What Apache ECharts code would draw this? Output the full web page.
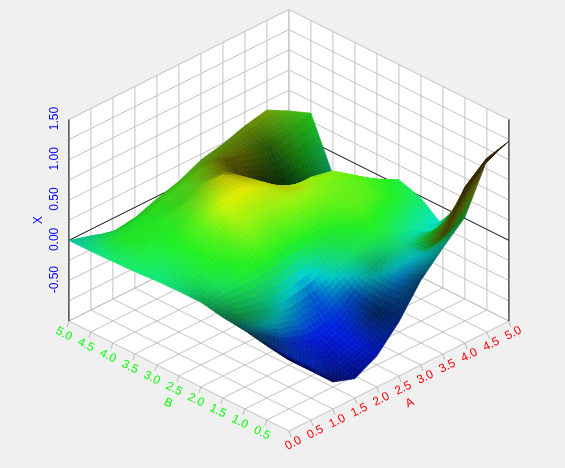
<!DOCTYPE html>
<html><head><meta charset="utf-8">
<style>html,body{margin:0;padding:0;background:#f0f0f0}#c{width:565px;height:468px}</style>
<script src="https://cdn.jsdelivr.net/npm/echarts@6/dist/echarts.min.js"></script></head>
<body><div id="c"></div><script>
const aTicks=[0,0.5,1,1.5,2,2.5,3,3.5,4,4.5,5];
const bTicks=[0,0.5,1,1.5,2,2.5,3,3.5,4,4.5,5];
const xLabels=[-0.5,0,0.5,1,1.5];
const xGrid=[-1,-0.75,-0.5,-0.25,0,0.25,0.5,0.75,1,1.25,1.5];
// surface height X: one row per B tick, one column per A tick
const h0=[-.12,-.39,-.665,-.76,-.615,-.33,.05,.315,.56,1.13,1.23];
const h1=[-.08,-.35,-.6,-.7,-.6,-.35,-.05,.1,.166,.66,.886];
const h2=[-.03,-.25,-.45,-.55,-.5,-.3,-.05,.05,.1,-.05,.29];
const h3=[0,-.15,-.25,-.3,-.25,-.12,0,.1,0,-.1,-.23];
const h4=[.05,.1,.1,.15,.2,.2,.25,.3,.3,.1,-.02];
const h5=[.05,.2,.35,.45,.45,.45,.5,.45,.35,.18,.07];
const h6=[.04,.25,.45,.6,.65,.55,.33,.36,.25,.12,-.07];
const h7=[.02,.2,.4,.6,.675,.51,.3,.09,.1,.04,-.16];
const h8=[.01,.15,.25,.3,.42,.45,.18,-.02,-.23,-.22,-.28];
const h9=[0,-.02,.1,.15,.25,.35,.32,.25,.2,.25,.35];
const h10=[0,-.08,-.17,-.13,-.03,.05,.18,.24,.33,.39,.24];
const heights=[h0,h1,h2,h3,h4,h5,h6,h7,h8,h9,h10];
// colour-map position read at each mesh node (0 blue,1 cyan,2 green,3 yellow,4 orange)
const tones=[
[0,0,0,0,0,.2,.6,1.2,1.5,3.8,4],
[.2,.1,.1,0,0,.3,.6,1,3,3.5,3.5],
[1,.4,.1,0,.05,.3,1.4,1.5,1.2,1,2],
[1.5,1.6,1.3,.8,.4,1.2,1.7,1.9,1.6,1.3,1],
[1.6,1.7,1.9,2,2,2,2.1,2.3,2.2,1.9,1.6],
[1.55,1.9,2.2,2.6,2.5,2.6,2.6,2.4,2.3,2.1,1.9],
[1.5,1.9,2.3,2.9,3.05,2.9,2.9,2.6,2.5,2.3,2.1],
[1.6,1.9,2.1,2.5,3.1,3.1,3,2.8,2.6,2.5,2.3],
[1.6,2,2,2.1,2.4,3,3.3,2.5,1.9,1.9,1.3],
[1.4,1.9,2,2.1,2.2,2.5,3.1,3,2.4,2.2,2.1],
[1.2,1.4,1.9,2,2.1,2.2,2.4,2.6,2.8,2.7,2.3]];
// brightness read at each mesh node
const lights=[
[.35,.4,.35,.55,.75,.5,.4,.6,.6,.25,.15],
[.3,.7,.75,.7,.95,.35,.8,.8,.25,.2,.2],
[.3,.45,.75,.95,1,.75,.7,.9,.95,1,.3],
[.45,.55,.65,.8,.9,.9,.95,1,1,1,1],
[.7,.95,1,1,1,1,1,1,1,1,1],
[.9,1,1,1,1,1,1,1,1,1,1],
[1,1,1,1,.95,.9,.85,1,1,1,1],
[1,1,.95,.85,.75,.7,.8,.85,.95,1,1],
[1,.95,.95,.85,.8,.45,.25,.12,.15,.4,.6],
[.95,.95,.9,.9,.85,.7,.35,.35,.35,.6,.8],
[.85,.85,.8,.8,.8,.75,.65,.55,.55,.65,.75]];
const pointsA=[],pointsB=[],pointsX=[];
const toneStops=[[0,24,224],[0,224,224],[32,240,32],[232,244,0],[224,128,0]];
function view(A,B,X){return [A-B,(A+B)/2+(X+1)*80.6/44];}
function toneColor(t,l){
  const i=Math.min(3,Math.floor(t)),f=t-i;
  const c=toneStops[i].map((v,k)=>Math.round((v+(toneStops[i+1][k]-v)*f)*l));
  return 'rgb('+c.join(',')+')';
}
function bilerp(g,i,j,u,v){
  return (g[j][i]*(1-u)+g[j][i+1]*u)*(1-v)+(g[j+1][i]*(1-u)+g[j+1][i+1]*u)*v;
}
const lastA=aTicks.length-1,lastB=bTicks.length-1,A5=aTicks[lastA],B5=bTicks[lastB],Xmin=xGrid[0],Xmax=xGrid[xGrid.length-1];
const lines=[];
function L(p,q,c,w){lines.push({p:p,q:q,c:c,w:w});}
const grey='#c2c2c2';
aTicks.forEach(a=>{L([a,B5,Xmin],[a,B5,Xmax],grey,1);L([a,0,Xmin],[a,B5,Xmin],grey,1);L([a,0,Xmin],[a,0,Xmin],grey,1);});
bTicks.forEach(b=>{L([A5,b,Xmin],[A5,b,Xmax],grey,1);L([0,b,Xmin],[A5,b,Xmin],grey,1);});
xGrid.forEach(x=>{L([0,B5,x],[A5,B5,x],grey,1);L([A5,B5,x],[A5,0,x],grey,1);});
L([0,B5,0],[A5,B5,0],'#222',1);L([A5,B5,0],[A5,0,0],'#222',1);
L([0,B5,Xmin],[0,B5,Xmax],'#333',1.2);L([A5,0,Xmin],[A5,0,Xmax],'#333',1.2);
const texts=[];
function T(t,A,B,X,dx,dy,rot,col){texts.push({t:t,A:A,B:B,X:X,dx:dx,dy:dy,rot:rot,col:col});}
const RISE=0.46;
aTicks.forEach(a=>T(a.toFixed(1),a,0,Xmin,4.3,12.3,RISE,'#ff0000'));
bTicks.slice(1).forEach(b=>T(b.toFixed(1),0,b,Xmin,-5,13,-RISE,'#00ff00'));
xLabels.forEach(x=>T(x.toFixed(2),0,B5,x,-14.5,-1,Math.PI/2,'#0000ff'));
T('A',2.5,0,Xmin,11,27,RISE,'#ff0000');
T('B',0,2.5,Xmin,-10.7,27,-RISE,'#00ff00');
T('X',0,B5,0.25,-30,0,Math.PI/2,'#0000ff');
const ticks=[];
aTicks.forEach(a=>ticks.push({A:a,B:0,dx:2,dy:6}));
bTicks.slice(1).forEach(b=>ticks.push({A:0,B:b,dx:-2,dy:6}));
const SUB=6,quads=[];
for(let j=lastB-1;j>=0;j--)for(let i=lastA-1;i>=0;i--)
  for(let s=SUB-1;s>=0;s--)for(let r=SUB-1;r>=0;r--)quads.push([i,j,r,s]);
function nodeAt(i,j,u,v){
  return view(aTicks[i]+(aTicks[i+1]-aTicks[i])*u,bTicks[j]+(bTicks[j+1]-bTicks[j])*v,bilerp(heights,i,j,u,v));
}
const corners=[[0,B5,Xmax],[A5,B5,Xmax],[A5,0,Xmax],[A5,0,Xmin],[0,0,Xmin],[0,B5,Xmin]];
const pts=pointsA.map((a,k)=>view(a,pointsB[k],pointsX[k]));
const chart=echarts.init(document.getElementById('c'),null,{renderer:'canvas'});
chart.setOption({
 backgroundColor:'#f0f0f0',animation:false,
 grid:{left:0,right:0,top:0,bottom:0},
 xAxis:{type:'value',min:-6.566,max:6.275,show:false},
 yAxis:{type:'value',min:-0.841,max:9.795,show:false},
 series:[
 {type:'custom',silent:true,clip:false,data:[0],z:1,renderItem:(p,api)=>{
   const C=v=>api.coord(view(v[0],v[1],v[2]));
   const kids=[{type:'polygon',shape:{points:corners.map(C)},style:{fill:'#fff'}}];
   lines.forEach(l=>{const a=C(l.p),b=C(l.q);
     kids.push({type:'line',shape:{x1:a[0],y1:a[1],x2:b[0],y2:b[1]},style:{stroke:l.c,lineWidth:l.w}});});
   ticks.forEach(t=>{const a=C([t.A,t.B,Xmin]);
     kids.push({type:'line',shape:{x1:a[0],y1:a[1],x2:a[0]+t.dx,y2:a[1]+t.dy},style:{stroke:'#bbb',lineWidth:1}});});
   texts.forEach(t=>{const a=C([t.A,t.B,t.X]);
     kids.push({type:'text',x:a[0]+t.dx,y:a[1]+t.dy,rotation:t.rot,style:{text:t.t,x:0,y:0,fill:t.col,font:'12px "Liberation Sans"',align:'center',verticalAlign:'middle'}});});
   return {type:'group',children:kids};
 }},
 {type:'custom',silent:true,clip:false,z:2,data:quads,renderItem:(p,api)=>{
   const i=api.value(0),j=api.value(1),r=api.value(2),s=api.value(3);
   const u0=r/SUB,u1=(r+1)/SUB,v0=s/SUB,v1=(s+1)/SUB,um=(u0+u1)/2,vm=(v0+v1)/2;
   const P=[[u0,v0],[u1,v0],[u1,v1],[u0,v1]].map(q=>api.coord(nodeAt(i,j,q[0],q[1])));
   const col=toneColor(bilerp(tones,i,j,um,vm),bilerp(lights,i,j,um,vm));
   return {type:'polygon',shape:{points:P},style:{fill:col,stroke:col,lineWidth:0.6}};
 }},
 {type:'scatter',silent:true,z:3,data:pts,symbolSize:5,itemStyle:{color:'#3a62cc',opacity:.95}}
 ]
});
</script></body></html>
